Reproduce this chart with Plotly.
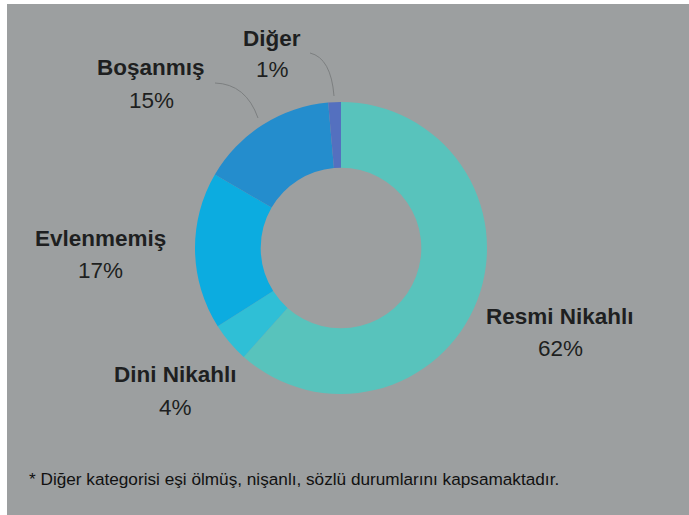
import plotly.graph_objects as go

# Data
labels = ["Resmi Nikahlı", "Dini Nikahlı", "Evlenmemiş", "Boşanmış", "Diğer"]
values = [61.6, 4.4, 17.4, 15.2, 1.4]
colors = ["#58c3bc", "#2fbfd6", "#0cace0", "#248dcd", "#5470bf"]
footnote = "* Diğer kategorisi eşi ölmüş, nişanlı, sözlü durumlarını kapsamaktadır."

W, H = 689, 515
BG = "#9c9fa0"

# label anchor positions in pixels (x, name line centre y, pct line centre y)
label_pos = {
    "Resmi Nikahlı": (560, 316, 348),
    "Dini Nikahlı": (175, 374, 407),
    "Evlenmemiş": (101, 238, 270),
    "Boşanmış": (151, 68, 100),
    "Diğer": (272, 39, 70),
}

def px(x):
    return x / W

def py(y):
    return 1 - y / H

cx, cy, r = 341, 248, 146

fig = go.Figure(go.Pie(
    labels=labels,
    values=values,
    marker=dict(colors=colors, line=dict(width=0)),
    hole=0.55,
    sort=False,
    direction="clockwise",
    rotation=0,
    textinfo="none",
    hoverinfo="label+percent",
    showlegend=False,
    domain=dict(x=[px(cx - r), px(cx + r)], y=[py(cy + r), py(cy - r)]),
))

total = sum(values)
annotations = []
for lab, val in zip(labels, values):
    x, y1, y2 = label_pos[lab]
    pct = round(val / total * 100)
    annotations.append(dict(
        x=px(x), y=py(y1), xref="paper", yref="paper", showarrow=False,
        text=f"<b>{lab}</b>", xanchor="center", yanchor="middle",
        font=dict(family="Liberation Sans", size=22.5, color="#1e1f21"),
    ))
    annotations.append(dict(
        x=px(x), y=py(y2), xref="paper", yref="paper", showarrow=False,
        text=f"{pct}%", xanchor="center", yanchor="middle",
        font=dict(family="Liberation Sans", size=22.5, color="#1e1f21"),
    ))

annotations.append(dict(
    x=px(27), y=py(479), xref="paper", yref="paper", showarrow=False,
    text=footnote, xanchor="left", yanchor="middle",
    font=dict(family="Liberation Sans", size=17.2, color="#111111"),
))

def path_q(p0, c, p1):
    return (f"M {px(p0[0])},{py(p0[1])} Q {px(c[0])},{py(c[1])} "
            f"{px(p1[0])},{py(p1[1])}")

shapes = [
    dict(type="rect", xref="paper", yref="paper", x0=px(7), x1=1.01,
         y0=-0.01, y1=py(4), fillcolor=BG, line=dict(width=0), layer="below"),
    dict(type="path", xref="paper", yref="paper",
         path=path_q((215, 83), (246, 84), (258, 118)),
         line=dict(color="#7c7f80", width=1)),
    dict(type="path", xref="paper", yref="paper",
         path=path_q((310, 53), (331, 58), (334, 96)),
         line=dict(color="#7c7f80", width=1)),
]

fig.update_layout(
    width=W, height=H,
    margin=dict(l=0, r=0, t=0, b=0),
    paper_bgcolor="white",
    plot_bgcolor=BG,
    annotations=annotations,
    shapes=shapes,
)

fig.write_html(
    "out.html",
    config={"displayModeBar": False},
    post_script=(
        "document.documentElement.style.margin='0';"
        "document.documentElement.style.overflow='hidden';"
        "document.body.style.margin='0';"
        "document.body.style.overflow='hidden';"
        "document.body.style.height='515px';"
    ),
)
